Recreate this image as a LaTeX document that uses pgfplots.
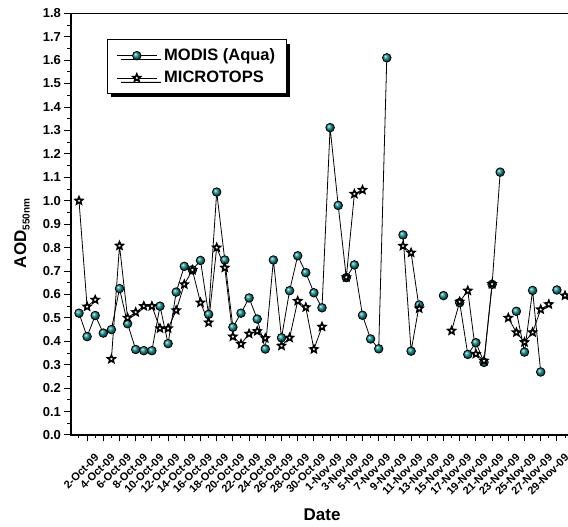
\documentclass[border=0pt]{standalone}
\usepackage{fontspec}
\setmainfont{Liberation Sans}
\usepackage{pgfplots}
\usepackage{pgfplotstable}
\pgfplotsset{compat=1.18}
\usetikzlibrary{shadows}
\definecolor{mteal}{RGB}{20,140,140}

\pgfdeclareplotmark{ostar}{%
 \pgfpathmoveto{\pgfpointpolar{90}{\pgfplotmarksize}}%
 \pgfpathlineto{\pgfpointpolar{126}{0.45\pgfplotmarksize}}%
 \pgfpathlineto{\pgfpointpolar{162}{\pgfplotmarksize}}%
 \pgfpathlineto{\pgfpointpolar{198}{0.45\pgfplotmarksize}}%
 \pgfpathlineto{\pgfpointpolar{234}{\pgfplotmarksize}}%
 \pgfpathlineto{\pgfpointpolar{270}{0.45\pgfplotmarksize}}%
 \pgfpathlineto{\pgfpointpolar{306}{\pgfplotmarksize}}%
 \pgfpathlineto{\pgfpointpolar{342}{0.45\pgfplotmarksize}}%
 \pgfpathlineto{\pgfpointpolar{18}{\pgfplotmarksize}}%
 \pgfpathlineto{\pgfpointpolar{54}{0.45\pgfplotmarksize}}%
 \pgfpathclose
 \pgfusepathqfillstroke
}

\pgfplotstableread{
k  modis  micro
1  0.520  1.000
2  0.420  0.548
3  0.510  0.577
4  0.435  nan
5  0.450  0.324
6  0.625  0.808
7  0.475  0.500
8  0.365  0.524
9  0.360  0.550
10 0.360  0.550
11 0.550  0.455
12 0.390  0.455
13 0.610  0.532
14 0.720  0.643
15 0.705  0.704
16 0.745  0.565
17 0.515  0.480
18 1.037  0.800
19 0.747  0.714
20 0.460  0.420
21 0.520  0.388
22 0.585  0.432
23 0.495  0.443
24 0.367  0.413
25 0.747  nan
26 0.415  0.381
27 0.616  0.415
28 0.765  0.572
29 0.693  0.545
30 0.607  0.366
31 0.543  0.462
32 1.312  nan
33 0.980  nan
34 0.672  0.673
35 0.726  1.029
36 0.511  1.046
37 0.410  nan
38 0.368  nan
39 1.610  nan
40 nan    nan
41 0.854  0.807
42 0.358  0.778
43 0.555  0.540
44 nan    nan
45 nan    nan
46 0.595  nan
47 nan    0.445
48 0.565  0.569
49 0.344  0.616
50 0.394  0.346
51 0.310  0.317
52 0.643  0.644
53 1.122  nan
54 nan    0.500
55 0.528  0.438
56 0.354  0.396
57 0.617  0.438
58 0.269  0.536
59 nan    0.558
60 0.619  nan
61 nan    0.595
}\data

\begin{document}
\begin{tikzpicture}
\useasboundingbox (-70.9pt,-92pt) rectangle (497.1pt,435pt);
\begin{axis}[
  scale only axis,
  width=505.44pt, height=421.7pt,
  xmin=0, xmax=62.4, ymin=0, ymax=1.8,
  unbounded coords=jump,
  tick pos=left,
  tick align=outside,
  axis line style={line width=1.3pt},
  major tick length=6.5pt,
  minor tick length=3.5pt,
  every tick/.style={black, line width=1pt},
  ytick={0,0.1,...,1.8},
  minor ytick={0.05,0.15,...,1.75},
  yticklabel style={/pgf/number format/fixed,/pgf/number format/fixed zerofill,/pgf/number format/precision=1},
  /pgf/number format/assume math mode=true,
  xtick={2,4,...,60},
  minor xtick={1,3,...,61},
  xticklabels={2-Oct-09,4-Oct-09,6-Oct-09,8-Oct-09,10-Oct-09,12-Oct-09,14-Oct-09,16-Oct-09,18-Oct-09,20-Oct-09,22-Oct-09,24-Oct-09,26-Oct-09,28-Oct-09,30-Oct-09,1-Nov-09,3-Nov-09,5-Nov-09,7-Nov-09,9-Nov-09,11-Nov-09,13-Nov-09,15-Nov-09,17-Nov-09,19-Nov-09,21-Nov-09,23-Nov-09,25-Nov-09,27-Nov-09,29-Nov-09},
  yticklabel style={font=\bfseries\fontsize{13}{13}\selectfont},
  xticklabel style={font=\bfseries\fontsize{11}{11}\selectfont, rotate=45, anchor=east, inner sep=0pt, xshift=-3pt, yshift=-17pt},
  every axis y label/.style={at={(axis description cs:-0.0967,0.478)}, rotate=90, anchor=center, font=\bfseries\fontsize{17}{17}\selectfont},
  every axis x label/.style={at={(axis description cs:0.497,-0.19)}, anchor=center, font=\bfseries\fontsize{17}{17}\selectfont},
  ylabel={AOD\raisebox{-3.5pt}{\fontsize{10}{10}\selectfont 550nm}},
  xlabel={Date},
  legend cell align=left,
  legend style={at={(axis description cs:0.0712,0.938)}, anchor=north west,
    draw=black, line width=1pt, fill=white,
    drop shadow={shadow xshift=4pt, shadow yshift=-4pt, fill=black, opacity=1},
    font=\bfseries\fontsize{16.5}{16.5}\selectfont,
    inner xsep=9pt, inner ysep=7pt, row sep=5pt},
  legend image code/.code={\draw[mark repeat=2,mark phase=2] plot coordinates {(0pt,0pt) (20pt,0pt) (40pt,0pt)};},
]
\addplot[black, line width=0.8pt, mark=ball, mark size=4.3pt, mark options={ball color=mteal, draw=none}]
  table[x=k, y=modis] {\data};
\addlegendentry{\hspace{5pt}MODIS (Aqua)\hspace{10pt}}
\addplot[black, line width=0.8pt, mark=ostar, mark size=3.9pt, mark options={fill=white, draw=black, line width=1.6pt, solid}]
  table[x=k, y=micro] {\data};
\addlegendentry{\hspace{5pt}MICROTOPS}
\end{axis}
\end{tikzpicture}
\end{document}
